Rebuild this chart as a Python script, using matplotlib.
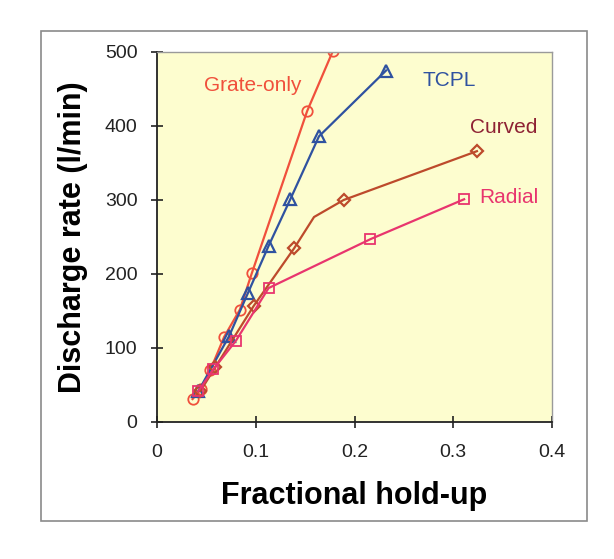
import matplotlib.pyplot as plt
from matplotlib.patches import Rectangle

# data
grate_x = [0.036, 0.045, 0.054, 0.068, 0.084, 0.096, 0.152, 0.178]
grate_y = [31, 45, 70, 115, 152, 201, 420, 501]

tcpl_x = [0.042, 0.073, 0.092, 0.113, 0.135, 0.164, 0.232]
tcpl_y = [42, 116, 174, 238, 301, 386, 475]

curved_x = [0.044, 0.059, 0.098, 0.139, 0.159, 0.189, 0.324]
curved_y = [42, 74, 157, 235, 277, 300, 366]
curved_marks = [0, 1, 2, 3, 5, 6]

radial_x = [0.042, 0.057, 0.080, 0.113, 0.216, 0.311]
radial_y = [42, 71, 110, 181, 247, 301]

plt.rcParams['font.family'] = ['Liberation Sans', 'DejaVu Sans']

fig = plt.figure(figsize=(6.14, 5.59), dpi=100)
# grey box round the whole chart
fig.patches.append(Rectangle((41/614, 1-521/559), 546/614, 490/559,
                             transform=fig.transFigure, fill=False,
                             edgecolor='#8a8a8a', linewidth=1.2))

ax = fig.add_axes([157/614, 1-422/559, 395/614, 370/559])
ax.set_facecolor('#fdfdcf')

ax.plot(grate_x, grate_y, color='#f0503c', lw=1.6, marker='o', ms=7.5,
        mfc='none', mec='#f0503c', mew=1.3)
ax.plot(tcpl_x, tcpl_y, color='#2f52a0', lw=1.6, marker='^', ms=9,
        mfc='none', mec='#2f52a0', mew=1.6)
ax.plot(curved_x, curved_y, color='#bd4a2c', lw=1.6, marker='D', ms=6.5,
        mfc='none', mec='#bd4a2c', mew=1.6, markevery=curved_marks)
ax.plot(radial_x, radial_y, color='#e8356e', lw=1.6, marker='s', ms=7.5,
        mfc='none', mec='#e8356e', mew=1.3)

ax.text(0.097, 447, 'Grate-only', color='#f0503c', fontsize=15, ha='center')
ax.text(0.296, 454, 'TCPL', color='#2f52a0', fontsize=15, ha='center')
ax.text(0.351, 391, 'Curved', color='#8e2234', fontsize=15, ha='center')
ax.text(0.356, 296, 'Radial', color='#e8356e', fontsize=15, ha='center')

ax.set_xlim(0, 0.4)
ax.set_ylim(0, 500)
ax.set_xticks([0, 0.1, 0.2, 0.3, 0.4])
ax.set_xticklabels(['0', '0.1', '0.2', '0.3', '0.4'])
ax.set_yticks([0, 100, 200, 300, 400, 500])
ax.tick_params(labelsize=14, direction='inout', length=8, width=1.2,
               colors='#222222')
ax.tick_params(axis='x', pad=12)
ax.tick_params(axis='y', pad=10)

for s in ['top', 'right']:
    ax.spines[s].set_color('#9a9a9a')
    ax.spines[s].set_linewidth(1.0)
for s in ['left', 'bottom']:
    ax.spines[s].set_color('#222222')
    ax.spines[s].set_linewidth(1.3)

ax.set_xlabel('Fractional hold-up', fontsize=22, fontweight='bold', labelpad=14)
ax.set_ylabel('Discharge rate (l/min)', fontsize=22, fontweight='bold', labelpad=12)

fig.savefig('out.png', dpi=100)
